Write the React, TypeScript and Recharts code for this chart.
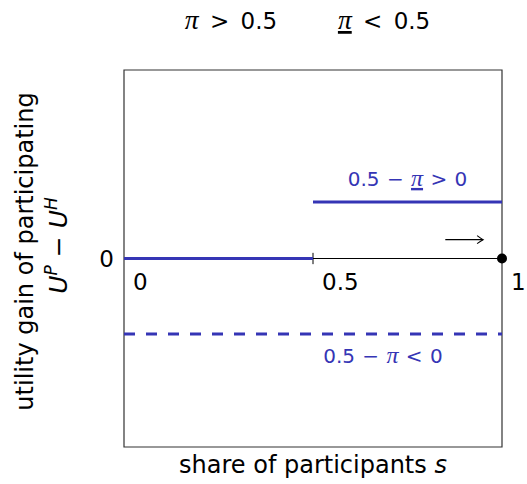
import {
  LineChart,
  Line,
  XAxis,
  YAxis,
  ReferenceArea,
  ReferenceDot,
} from 'recharts';

const FONT = '"DejaVu Sans", sans-serif';
const BLUE = '#3535b5';

// utility gain U^P - U^H against share of participants s
const gainLowPi = [
  { s: 0, gain: 0 },
  { s: 0.5, gain: 0 },
];
const gainLowPiUpper = [
  { s: 0.5, gain: 0.3 },
  { s: 1, gain: 0.3 },
];
const gainHighPi = [
  { s: 0, gain: -0.4 },
  { s: 1, gain: -0.4 },
];
const zeroAxis = [
  { s: 0.5, gain: 0 },
  { s: 1, gain: 0 },
];
const midTick = [
  { s: 0.5, gain: -0.03 },
  { s: 0.5, gain: 0.03 },
];
const drift = [
  { s: 0.85, gain: 0.1 },
  { s: 0.95, gain: 0.1 },
];

const xTickValues = [0, 0.5, 1];
const xTickLabels = ['0', '0.5', '1'];
const upperNoteAt = { s: 0.75, gain: 0.3 };
const lowerNoteAt = { s: 0.685, gain: -0.4 };

const Pi = ({ under }: { under?: boolean }) => (
  <tspan
    fontFamily='"Liberation Serif", serif'
    fontStyle="italic"
    fontSize="1.2em"
    style={under ? { textDecoration: 'underline' } : undefined}
  >
    π
  </tspan>
);

function ArrowHead(props: any) {
  const { cx, cy, index } = props;
  if (index !== 1) return <g key={`a${index}`} />;
  return (
    <path
      key={`a${index}`}
      d={`M${cx - 6},${cy - 4} Q${cx - 2},${cy - 1} ${cx},${cy} Q${cx - 2},${cy + 1} ${cx - 6},${cy + 4}`}
      fill="none"
      stroke="#000"
      strokeWidth={1.1}
    />
  );
}

export default function App() {
  return (
    <div style={{ position: 'absolute', left: 0, top: 0, background: '#fff' }}>
      <LineChart
        width={527}
        height={484}
        margin={{ top: 0, right: 25, bottom: 0, left: 0 }}
      >
        <XAxis
          xAxisId="top"
          orientation="top"
          type="number"
          dataKey="s"
          domain={[0, 1]}
          height={70}
          tick={false}
          axisLine={false}
          tickLine={false}
          label={(p: any) => {
            const vb = p.viewBox;
            return (
              <g fontFamily={FONT} fontSize={23} fill="#000" style={{ wordSpacing: 4 }}>
                <text x={vb.x + vb.width * 0.283} y={29} textAnchor="middle">
                  <Pi /> {'> 0.5'}
                </text>
                <text x={vb.x + vb.width * 0.688} y={29} textAnchor="middle">
                  <Pi under /> {'< 0.5'}
                </text>
              </g>
            );
          }}
        />
        <XAxis
          type="number"
          dataKey="s"
          domain={[0, 1]}
          height={37}
          tick={false}
          axisLine={false}
          tickLine={false}
          label={(p: any) => {
            const vb = p.viewBox;
            return (
              <text
                x={vb.x + vb.width / 2}
                y={vb.y + 26}
                textAnchor="middle"
                fontFamily={FONT}
                fontSize={24}
                fill="#000"
              >
                share of participants <tspan fontStyle="italic">s</tspan>
              </text>
            );
          }}
        />
        <YAxis
          type="number"
          domain={[-1, 1]}
          ticks={[0]}
          width={124}
          axisLine={false}
          tickLine={false}
          tickSize={0}
          tickMargin={10}
          tick={{ fontFamily: FONT, fontSize: 23, fill: '#000' }}
          label={(p: any) => {
            const vb = p.viewBox;
            const cy = vb.y + vb.height / 2;
            return (
              <g fontFamily={FONT} fill="#000">
                <text
                  x={33}
                  y={cy - 7}
                  fontSize={24}
                  textAnchor="middle"
                  transform={`rotate(-90, 33, ${cy - 7})`}
                >
                  utility gain of participating
                </text>
                <text
                  x={67}
                  y={cy - 13}
                  fontSize={25}
                  textAnchor="middle"
                  transform={`rotate(-90, 67, ${cy - 13})`}
                >
                  <tspan fontStyle="italic">U</tspan>
                  <tspan fontStyle="italic" fontSize={17} dy={-10}>P</tspan>
                  <tspan dy={10}> − </tspan>
                  <tspan fontStyle="italic">U</tspan>
                  <tspan fontStyle="italic" fontSize={17} dy={-10}>H</tspan>
                </text>
              </g>
            );
          }}
        />
        <ReferenceArea
          x1={0}
          x2={1}
          y1={-1}
          y2={1}
          fill="none"
          stroke="#333"
          strokeWidth={1.2}
        />
        <Line
          data={zeroAxis}
          dataKey="gain"
          stroke="#000"
          strokeWidth={1}
          dot={false}
          isAnimationActive={false}
        />
        <Line
          data={midTick}
          dataKey="gain"
          stroke="#000"
          strokeWidth={1}
          dot={false}
          isAnimationActive={false}
        />
        <Line
          data={gainLowPi}
          dataKey="gain"
          stroke={BLUE}
          strokeWidth={3}
          dot={false}
          isAnimationActive={false}
        />
        <Line
          data={gainLowPiUpper}
          dataKey="gain"
          stroke={BLUE}
          strokeWidth={3}
          dot={false}
          isAnimationActive={false}
        />
        <Line
          data={gainHighPi}
          dataKey="gain"
          stroke={BLUE}
          strokeWidth={3}
          strokeDasharray="11 11"
          dot={false}
          isAnimationActive={false}
        />
        <Line
          data={drift}
          dataKey="gain"
          stroke="#000"
          strokeWidth={1.1}
          dot={ArrowHead}
          isAnimationActive={false}
        />
        <ReferenceDot x={1} y={0} r={5} fill="#000" stroke="none" />
        {xTickValues.map((v, i) => (
          <ReferenceDot
            key={`t${v}`}
            x={v}
            y={0}
            r={0}
            fill="none"
            stroke="none"
            label={(p: any) => (
              <text
                x={p.viewBox.x + 9}
                y={p.viewBox.y + 31}
                fontFamily={FONT}
                fontSize={23}
                fill="#000"
              >
                {xTickLabels[i]}
              </text>
            )}
          />
        ))}
        <ReferenceDot
          x={upperNoteAt.s}
          y={upperNoteAt.gain}
          r={0}
          fill="none"
          stroke="none"
          label={(p: any) => (
            <text
              x={p.viewBox.x}
              y={p.viewBox.y - 16}
              textAnchor="middle"
              fontFamily={FONT}
              fontSize={20}
              fill={BLUE}
              style={{ wordSpacing: 1 }}
            >
              0.5 − <Pi under /> {'> 0'}
            </text>
          )}
        />
        <ReferenceDot
          x={lowerNoteAt.s}
          y={lowerNoteAt.gain}
          r={0}
          fill="none"
          stroke="none"
          label={(p: any) => (
            <text
              x={p.viewBox.x}
              y={p.viewBox.y + 29}
              textAnchor="middle"
              fontFamily={FONT}
              fontSize={20}
              fill={BLUE}
              style={{ wordSpacing: 1 }}
            >
              0.5 − <Pi /> {'< 0'}
            </text>
          )}
        />
      </LineChart>
    </div>
  );
}
